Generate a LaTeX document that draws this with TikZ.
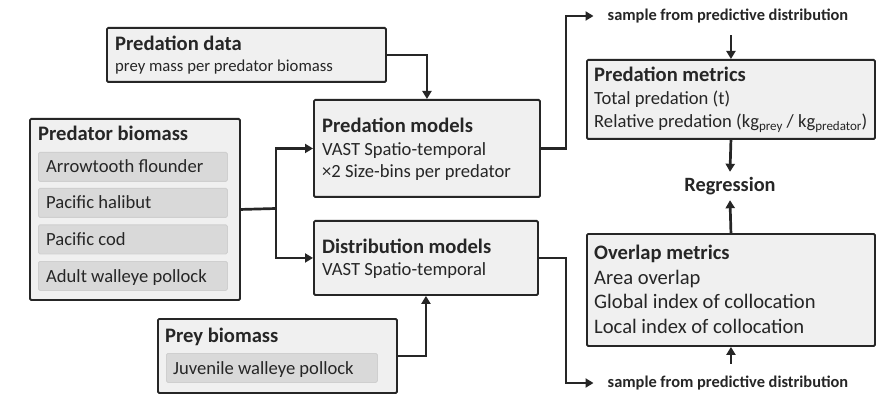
\documentclass[tikz,border=0pt]{standalone}
\usepackage{fontspec}
\setmainfont{Carlito}
\usetikzlibrary{arrows.meta}
\definecolor{boxfill}{HTML}{F0F0F0}
\definecolor{itemfill}{HTML}{D9D9D9}
\definecolor{itemline}{HTML}{CFCFCF}
\definecolor{ink}{HTML}{262626}
\begin{document}
\begin{tikzpicture}[x=1pt,y=-1pt,
 box/.style={draw=ink, line width=1.9pt, fill=boxfill, rounded corners=1.2pt, inner sep=0, anchor=north west},
 item/.style={draw=itemline, line width=0.8pt, fill=itemfill, rounded corners=1.5pt, inner sep=0, anchor=north west},
 ttl/.style={anchor=base west, inner sep=0, text=ink, font=\fontsize{20.6}{24}\selectfont\bfseries},
 txt/.style={anchor=base west, inner sep=0, text=ink, font=\fontsize{18.6}{22}\selectfont},
 big/.style={anchor=base west, inner sep=0, text=ink, font=\fontsize{20.6}{24}\selectfont},
 sub/.style={anchor=base west, inner sep=0, text=ink, font=\fontsize{16.7}{20}\selectfont},
 lbl/.style={inner sep=0, text=ink, font=\fontsize{16.4}{19}\selectfont\bfseries},
 conn/.style={line width=2.7pt, draw=ink, -{Triangle[length=8pt,width=9pt]}},
]
\useasboundingbox[fill=white] (0,0) rectangle (895,401);

% Predation data
\node[box, minimum width=279pt, minimum height=54pt] (pd) at (106,27) {};
\node[ttl] (pdt) at (115,51) {Predation data};
\node[sub] (pds) at (115,72) {prey mass per predator biomass};

% Predator biomass
\node[box, minimum width=210pt, minimum height=181pt] (pb) at (29,118) {};
\node[ttl] (pbt) at (38,141) {Predator biomass};
\node[item, minimum width=189pt, minimum height=29pt] (i1) at (38,152) {};
\node[item, minimum width=189pt, minimum height=29pt] (i2) at (38,188) {};
\node[item, minimum width=189pt, minimum height=29pt] (i3) at (38,224.5) {};
\node[item, minimum width=189pt, minimum height=29pt] (i4) at (38,261) {};
\node[txt] (i1t) at (46,173) {Arrowtooth flounder};
\node[txt] (i2t) at (46,209) {Pacific halibut};
\node[txt] (i3t) at (46,245.5) {Pacific cod};
\node[txt] (i4t) at (46,282) {Adult walleye pollock};

% Predation models
\node[box, minimum width=226pt, minimum height=97pt] (pmod) at (313,99) {};
\node[ttl] (pmt) at (322,133) {Predation models};
\node[txt] (pm1) at (322,155.5) {VAST Spatio-temporal};
\node[txt] (pm2) at (322,178) {×2 Size-bins per predator};

% Distribution models
\node[box, minimum width=224pt, minimum height=74pt] (dmod) at (313,220) {};
\node[ttl] (dmt) at (322,253) {Distribution models};
\node[txt] (dm1) at (322,276) {VAST Spatio-temporal};

% Prey biomass
\node[box, minimum width=239pt, minimum height=74pt] (prey) at (157,318) {};
\node[ttl] (pyt) at (165,342) {Prey biomass};
\node[item, minimum width=211pt, minimum height=29pt] (i5) at (166,353) {};
\node[txt] (i5t) at (173,374) {Juvenile walleye pollock};

% Predation metrics
\node[box, minimum width=288pt, minimum height=79pt] (pmet) at (586,59) {};
\node[ttl] (pmet0) at (594,82) {Predation metrics};
\node[txt] (pmet1) at (594,105) {Total predation (t)};
\node[txt] (pmet2) at (594,128) {Relative predation (kg{\fontsize{13}{15}\selectfont\raisebox{-3pt}{prey}} / kg{\fontsize{13}{15}\selectfont\raisebox{-3pt}{predator}})};

% Overlap metrics
\node[box, minimum width=288pt, minimum height=112pt] (omet) at (586,233) {};
\node[ttl] (om0) at (594,259) {Overlap metrics};
\node[big] (om1) at (594,284) {Area overlap};
\node[big] (om2) at (594,308) {Global index of collocation};
\node[big] (om3) at (594,333) {Local index of collocation};

% Labels
\node[lbl] (s1) at (728,16) {sample from predictive distribution};
\node[lbl] (s2) at (728,383) {sample from predictive distribution};
\node[inner sep=0, text=ink, font=\fontsize{20.3}{24}\selectfont\bfseries, minimum height=28pt] (reg) at (730,186) {Regression};

% Connectors
\coordinate (jl) at (276,208.5);
\coordinate (ja) at (566,16);
\coordinate (jb) at (566,383);
\draw[conn] (pd.east) -| (pmod.north);
\draw[line width=2.7pt, draw=ink] (pb.east) -- (jl);
\draw[conn] (jl) |- (pmod.west);
\draw[conn] (jl) |- (dmod.west);
\draw[conn] (prey.east) -| (dmod.south);
\draw[conn] (pmod.east) -| (ja) -- ([xshift=-14pt]s1.west);
\draw[conn] (dmod.east) -| (jb) -- ([xshift=-14pt]s2.west);
\draw[conn] ([yshift=-12pt]s1.south -| pmet.north) -- (pmet.north);
\draw[conn] (pmet.south) -- (reg.north);
\draw[conn] (omet.north) -- (reg.south);
\draw[conn] ([yshift=12pt]s2.north -| omet.south) -- (omet.south);
\end{tikzpicture}
\end{document}
